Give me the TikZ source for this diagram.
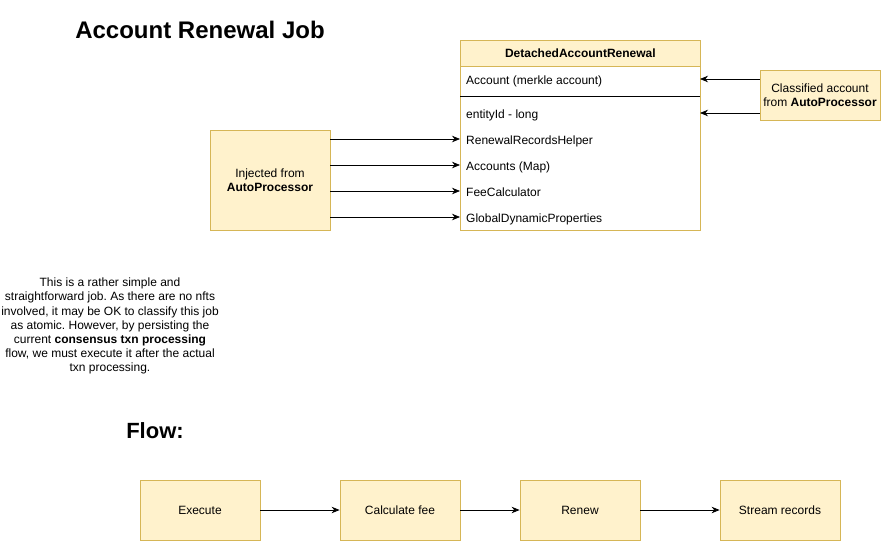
\documentclass[tikz,border=0pt]{standalone}
\usepackage{fontspec}
\setmainfont{Liberation Sans}
\usetikzlibrary{arrows.meta}
\definecolor{yfill}{HTML}{FFF2CC}
\definecolor{ystroke}{HTML}{D6B656}
\frenchspacing
\begin{document}
\begin{tikzpicture}[x=1pt,y=-1pt,
  ybox/.style={draw=ystroke,fill=yfill,line width=0.8pt,inner sep=0pt,align=center,font=\fontsize{12}{14}\selectfont},
  rowtxt/.style={anchor=base west,inner sep=0pt,font=\fontsize{12}{14}\selectfont},
  conn/.style={-{Stealth[length=8pt,width=6.5pt]},line width=0.8pt}]
\useasboundingbox (0,0) rectangle (881,541);
% title
\node[font=\fontsize{24}{28}\selectfont\bfseries] (title) at (200,30) {Account Renewal Job};
\node[font=\fontsize{22}{24}\selectfont\bfseries] (flow) at (155,431) {Flow:};
% class box
\draw[draw=ystroke,fill=white,line width=0.8pt] (460,66) rectangle (700,230);
\node[ybox,minimum width=240pt,minimum height=26pt,anchor=north west,font=\fontsize{12}{14}\selectfont\bfseries] (hdr) at (460,40) {DetachedAccountRenewal};
\draw[line width=0.8pt] (460,96) -- (700,96);
\node[rowtxt] (r0) at (466,84.2) {Account (merkle account)};
\node[rowtxt] (r1) at (466,118.2) {entityId - long};
\node[rowtxt] (r2) at (466,144.2) {RenewalRecordsHelper};
\node[rowtxt] (r3) at (466,170.2) {Accounts (Map)};
\node[rowtxt] (r4) at (466,196.2) {FeeCalculator};
\node[rowtxt] (r5) at (466,222.2) {GlobalDynamicProperties};
\coordinate (e0) at (700,79);
\coordinate (e1) at (700,113);
\coordinate (w2) at (460,139);
\coordinate (w3) at (460,165);
\coordinate (w4) at (460,191);
\coordinate (w5) at (460,217);
% classified
\node[ybox,minimum width=120pt,minimum height=50pt] (cls) at (820,95) {Classified account\\from \textbf{AutoProcessor}};
\draw[conn] (cls.west|-e0) -- (e0);
\draw[conn] (cls.west|-e1) -- (e1);
% injected
\node[ybox,minimum width=120pt,minimum height=100pt] (inj) at (270,180) {Injected from\\\textbf{AutoProcessor}};
\draw[conn] (inj.east|-w2) -- (w2);
\draw[conn] (inj.east|-w3) -- (w3);
\draw[conn] (inj.east|-w4) -- (w4);
\draw[conn] (inj.east|-w5) -- (w5);
% note
\node[align=center,inner sep=0pt,font=\fontsize{12}{14.1}\selectfont] (note) at (110,326) {This is a rather simple and\\straightforward job. As there are no nfts\\involved, it may be OK to classify this job\\as atomic. However, by persisting the\\current \textbf{consensus txn processing}\\flow, we must execute it after the actual\\txn processing.};
% flow
\node[ybox,minimum width=120pt,minimum height=60pt] (f1) at (200,510) {Execute};
\node[ybox,minimum width=120pt,minimum height=60pt] (f2) at (400,510) {Calculate fee};
\node[ybox,minimum width=120pt,minimum height=60pt] (f3) at (580,510) {Renew};
\node[ybox,minimum width=120pt,minimum height=60pt] (f4) at (780,510) {Stream records};
\draw[conn] (f1) -- (f2);
\draw[conn] (f2) -- (f3);
\draw[conn] (f3) -- (f4);
\end{tikzpicture}
\end{document}
